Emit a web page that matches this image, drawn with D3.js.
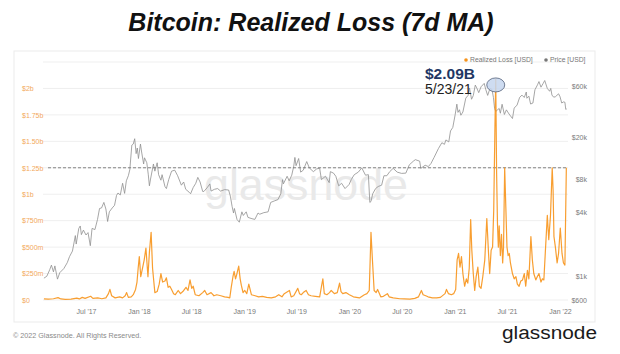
<!DOCTYPE html>
<html>
<head>
<meta charset="utf-8">
<script src="https://cdn.jsdelivr.net/npm/d3@7"></script>
<style>
  body { margin: 0; background: #fff; }
  svg text { font-family: "Liberation Sans", Arial, sans-serif; }
</style>
</head>
<body>
<svg id="chart" width="620" height="354"></svg>
<script>
// Realized loss, 7d MA, in $ billions
const lossData = [
  ["2017-02-05",0.01],["2017-02-20",0.008],["2017-03-10",0.012],["2017-03-26",0.022],["2017-04-05",0.01],
  ["2017-04-20",0.006],["2017-05-10",0.008],["2017-05-30",0.018],["2017-06-08",0.01],["2017-06-18",0.025],
  ["2017-06-28",0.015],["2017-07-17",0.035],["2017-07-25",0.015],["2017-08-11",0.02],["2017-08-25",0.012],
  ["2017-09-08",0.02],["2017-09-17",0.06],["2017-09-22",0.10],["2017-09-28",0.04],["2017-10-10",0.02],
  ["2017-10-26",0.03],["2017-11-05",0.02],["2017-11-14",0.04],["2017-11-19",0.07],["2017-11-25",0.025],
  ["2017-12-05",0.03],["2017-12-12",0.05],["2017-12-20",0.10],["2017-12-25",0.17],["2017-12-29",0.30],
  ["2018-01-02",0.41],["2018-01-07",0.22],["2018-01-13",0.30],["2018-01-19",0.38],["2018-01-25",0.49],
  ["2018-02-01",0.22],["2018-02-06",0.45],["2018-02-12",0.64],["2018-02-17",0.30],["2018-02-25",0.07],
  ["2018-03-05",0.08],["2018-03-12",0.15],["2018-03-18",0.25],["2018-03-24",0.17],["2018-04-01",0.18],
  ["2018-04-06",0.21],["2018-04-12",0.12],["2018-04-18",0.13],["2018-04-24",0.10],["2018-05-01",0.06],
  ["2018-05-07",0.05],["2018-05-17",0.09],["2018-05-25",0.06],["2018-06-02",0.08],["2018-06-13",0.12],
  ["2018-06-20",0.09],["2018-06-27",0.19],["2018-07-03",0.11],["2018-07-08",0.13],["2018-07-15",0.05],
  ["2018-07-28",0.04],["2018-08-10",0.07],["2018-08-17",0.09],["2018-08-25",0.05],["2018-09-08",0.07],
  ["2018-09-18",0.04],["2018-09-28",0.05],["2018-10-12",0.04],["2018-10-25",0.03],["2018-11-06",0.025],
  ["2018-11-12",0.02],["2018-11-17",0.12],["2018-11-23",0.22],["2018-11-27",0.27],["2018-12-02",0.20],
  ["2018-12-06",0.24],["2018-12-13",0.32],["2018-12-18",0.20],["2018-12-22",0.14],["2018-12-28",0.07],
  ["2019-01-03",0.09],["2019-01-10",0.06],["2019-01-17",0.15],["2019-01-26",0.05],["2019-02-08",0.04],
  ["2019-02-20",0.03],["2019-03-05",0.035],["2019-03-20",0.025],["2019-04-05",0.02],["2019-04-20",0.03],
  ["2019-05-01",0.05],["2019-05-12",0.03],["2019-05-20",0.06],["2019-06-07",0.09],["2019-06-13",0.03],
  ["2019-06-22",0.04],["2019-07-06",0.11],["2019-07-12",0.06],["2019-07-18",0.05],["2019-07-25",0.07],
  ["2019-08-04",0.09],["2019-08-12",0.05],["2019-08-21",0.04],["2019-09-05",0.035],["2019-09-20",0.03],
  ["2019-09-27",0.14],["2019-10-01",0.20],["2019-10-06",0.06],["2019-10-15",0.05],["2019-10-24",0.07],
  ["2019-10-30",0.09],["2019-11-10",0.06],["2019-11-20",0.07],["2019-11-28",0.16],["2019-12-03",0.08],
  ["2019-12-09",0.06],["2019-12-20",0.07],["2020-01-01",0.05],["2020-01-15",0.03],["2020-02-05",0.02],
  ["2020-02-22",0.05],["2020-03-02",0.06],["2020-03-10",0.09],["2020-03-14",0.45],["2020-03-16",0.64],
  ["2020-03-21",0.38],["2020-03-27",0.09],["2020-04-03",0.07],["2020-04-08",0.10],["2020-04-19",0.03],
  ["2020-04-28",0.035],["2020-05-12",0.06],["2020-05-18",0.03],["2020-06-01",0.02],["2020-06-24",0.012],
  ["2020-07-10",0.01],["2020-07-29",0.008],["2020-08-15",0.015],["2020-08-28",0.03],["2020-09-07",0.09],
  ["2020-09-13",0.05],["2020-09-22",0.04],["2020-09-30",0.03],["2020-10-15",0.02],["2020-10-30",0.02],
  ["2020-11-12",0.025],["2020-11-28",0.06],["2020-12-03",0.10],["2020-12-10",0.06],["2020-12-20",0.05],
  ["2020-12-28",0.06],["2021-01-04",0.10],["2021-01-09",0.38],["2021-01-14",0.44],["2021-01-19",0.31],
  ["2021-01-24",0.41],["2021-01-29",0.25],["2021-02-04",0.13],["2021-02-10",0.20],["2021-02-15",0.16],
  ["2021-02-20",0.30],["2021-02-25",0.76],["2021-03-01",0.47],["2021-03-06",0.25],["2021-03-11",0.09],
  ["2021-03-16",0.22],["2021-03-22",0.31],["2021-03-27",0.13],["2021-04-02",0.11],["2021-04-08",0.22],
  ["2021-04-15",0.38],["2021-04-22",0.77],["2021-04-28",0.44],["2021-05-02",0.25],["2021-05-07",0.47],
  ["2021-05-12",0.50],["2021-05-16",0.85],["2021-05-20",1.60],["2021-05-23",2.09],["2021-05-26",1.20],
  ["2021-05-29",0.72],["2021-06-01",0.50],["2021-06-04",0.70],["2021-06-08",0.42],["2021-06-12",0.62],
  ["2021-06-16",0.35],["2021-06-19",0.50],["2021-06-23",1.25],["2021-06-27",0.88],["2021-07-01",0.50],
  ["2021-07-05",0.42],["2021-07-09",0.44],["2021-07-13",0.35],["2021-07-20",0.25],["2021-07-26",0.20],
  ["2021-08-01",0.22],["2021-08-06",0.15],["2021-08-12",0.13],["2021-08-18",0.18],["2021-08-24",0.19],
  ["2021-08-30",0.25],["2021-09-04",0.13],["2021-09-10",0.28],["2021-09-15",0.20],["2021-09-22",0.60],
  ["2021-09-27",0.38],["2021-10-02",0.25],["2021-10-09",0.19],["2021-10-14",0.22],["2021-10-20",0.25],
  ["2021-10-27",0.17],["2021-11-01",0.20],["2021-11-06",0.19],["2021-11-12",0.50],["2021-11-18",0.80],
  ["2021-11-23",0.57],["2021-11-29",0.80],["2021-12-05",1.25],["2021-12-08",1.04],["2021-12-11",0.60],
  ["2021-12-16",0.50],["2021-12-22",0.35],["2021-12-27",0.44],["2022-01-02",0.68],["2022-01-08",0.44],
  ["2022-01-13",0.35],["2022-01-18",0.33],["2022-01-23",1.25]
];

// BTC price, USD
const priceData = [
  ["2017-02-05",960],["2017-02-15",1000],["2017-02-25",1150],["2017-03-03",1270],["2017-03-10",1100],
  ["2017-03-15",1250],["2017-03-24",940],["2017-04-01",1080],["2017-04-15",1180],["2017-04-27",1340],
  ["2017-05-05",1530],["2017-05-15",1720],["2017-05-25",2400],["2017-05-28",2000],["2017-06-06",2800],
  ["2017-06-11",2950],["2017-06-15",2450],["2017-06-22",2700],["2017-07-01",2430],["2017-07-08",2560],
  ["2017-07-16",1930],["2017-07-22",2800],["2017-08-01",2730],["2017-08-10",3400],["2017-08-17",4300],
  ["2017-08-24",4350],["2017-09-01",4900],["2017-09-08",4250],["2017-09-14",3250],["2017-09-20",4000],
  ["2017-09-30",4350],["2017-10-08",4600],["2017-10-15",5700],["2017-10-20",6000],["2017-10-28",5750],
  ["2017-11-05",7400],["2017-11-12",5950],["2017-11-18",7800],["2017-11-25",8700],["2017-11-30",9900],
  ["2017-12-07",16800],["2017-12-12",17200],["2017-12-17",19300],["2017-12-22",14000],["2017-12-26",15800],
  ["2017-12-30",12600],["2018-01-06",17200],["2018-01-10",14500],["2018-01-17",11200],["2018-01-20",12800],
  ["2018-01-28",11500],["2018-02-02",9000],["2018-02-06",7000],["2018-02-10",8100],["2018-02-20",11200],
  ["2018-02-25",9600],["2018-03-05",11500],["2018-03-10",8900],["2018-03-18",7900],["2018-03-22",8900],
  ["2018-04-01",6900],["2018-04-06",6600],["2018-04-14",8000],["2018-04-24",9600],["2018-05-05",9800],
  ["2018-05-15",8700],["2018-05-28",7100],["2018-06-05",7600],["2018-06-12",6500],["2018-06-24",6100],
  ["2018-06-29",5900],["2018-07-08",6750],["2018-07-17",7400],["2018-07-24",8400],["2018-08-01",7600],
  ["2018-08-10",6200],["2018-08-14",6200],["2018-08-25",6700],["2018-09-04",7300],["2018-09-08",6250],
  ["2018-09-20",6500],["2018-10-01",6600],["2018-10-11",6250],["2018-10-25",6450],["2018-11-08",6400],
  ["2018-11-14",5600],["2018-11-20",4500],["2018-11-25",3900],["2018-11-28",4300],["2018-12-07",3400],
  ["2018-12-15",3200],["2018-12-24",4000],["2018-12-29",3700],["2019-01-08",4000],["2019-01-14",3550],
  ["2019-01-28",3450],["2019-02-07",3400],["2019-02-18",3900],["2019-02-24",3800],["2019-03-10",3930],
  ["2019-03-25",4000],["2019-04-03",4900],["2019-04-15",5050],["2019-04-28",5200],["2019-05-08",5900],
  ["2019-05-14",8000],["2019-05-17",7300],["2019-05-30",8600],["2019-06-06",7800],["2019-06-15",8800],
  ["2019-06-22",10700],["2019-06-26",12900],["2019-06-30",10800],["2019-07-09",12600],["2019-07-16",9400],
  ["2019-07-25",9800],["2019-08-06",11800],["2019-08-15",10300],["2019-08-29",9500],["2019-09-10",10100],
  ["2019-09-20",10200],["2019-09-26",8000],["2019-10-10",8600],["2019-10-23",7500],["2019-10-27",9500],
  ["2019-11-07",9200],["2019-11-15",8600],["2019-11-25",7000],["2019-12-05",7400],["2019-12-17",6600],
  ["2019-12-31",7200],["2020-01-08",8050],["2020-01-18",8900],["2020-02-01",9400],["2020-02-13",10300],
  ["2020-02-26",8800],["2020-03-07",8900],["2020-03-12",4900],["2020-03-16",5000],["2020-03-22",5900],
  ["2020-04-01",6600],["2020-04-10",6900],["2020-04-22",7100],["2020-04-30",8700],["2020-05-10",8700],
  ["2020-05-20",9500],["2020-06-01",10200],["2020-06-15",9400],["2020-06-30",9150],["2020-07-15",9200],
  ["2020-07-27",11000],["2020-08-10",11900],["2020-08-17",12300],["2020-09-01",11900],["2020-09-05",10200],
  ["2020-09-20",10900],["2020-10-01",10600],["2020-10-10",11300],["2020-10-21",12900],["2020-11-05",15600],
  ["2020-11-17",17700],["2020-11-26",17100],["2020-12-01",18800],["2020-12-11",18000],["2020-12-17",22800],
  ["2020-12-25",24600],["2021-01-02",32200],["2021-01-08",40600],["2021-01-12",34000],["2021-01-17",36000],
  ["2021-01-22",32000],["2021-01-29",34300],["2021-02-08",46200],["2021-02-16",49000],["2021-02-21",57500],
  ["2021-02-28",45100],["2021-03-06",48800],["2021-03-13",61200],["2021-03-18",57600],["2021-03-25",52000],
  ["2021-04-02",59000],["2021-04-13",63500],["2021-04-18",56000],["2021-04-25",49000],["2021-05-03",57000],
  ["2021-05-10",55800],["2021-05-15",46800],["2021-05-19",37000],["2021-05-23",34700],["2021-05-28",35700],
  ["2021-06-04",37000],["2021-06-08",33400],["2021-06-14",40500],["2021-06-22",32500],["2021-06-29",35900],
  ["2021-07-08",32900],["2021-07-20",29800],["2021-07-26",37300],["2021-08-05",39800],["2021-08-14",47000],
  ["2021-08-22",49300],["2021-08-30",46900],["2021-09-06",52700],["2021-09-08",46100],["2021-09-15",48200],
  ["2021-09-21",40700],["2021-09-29",41600],["2021-10-06",55300],["2021-10-15",61600],["2021-10-20",66000],
  ["2021-10-27",58500],["2021-11-03",63000],["2021-11-09",67500],["2021-11-18",56900],["2021-11-26",53600],
  ["2021-11-30",57000],["2021-12-04",49400],["2021-12-10",47200],["2021-12-16",47600],["2021-12-27",50700],
  ["2022-01-01",47700],["2022-01-07",41600],["2022-01-13",42600],["2022-01-18",42300],["2022-01-21",36300],
  ["2022-01-24",36600]
];

const lossTicks = [0, 0.25, 0.5, 0.75, 1, 1.25, 1.5, 1.75, 2];
const lossTickLabels = ["$0", "$250m", "$500m", "$750m", "$1b", "$1.25b", "$1.50b", "$1.75b", "$2b"];
const gridTicks = [0, 0.25, 0.5, 0.75, 1, 1.25, 1.5, 1.75, 2, 2.25];
const priceTicks = [600, 1000, 4000, 8000, 20000, 60000];
const priceTickLabels = ["$600", "$1k", "$4k", "$8k", "$20k", "$60k"];
const xTicks = ["2017-07-01", "2018-01-01", "2018-07-01", "2019-01-01", "2019-07-01",
                "2020-01-01", "2020-07-01", "2021-01-01", "2021-07-01", "2022-01-01"];
const xTickLabels = ["Jul '17", "Jan '18", "Jul '18", "Jan '19", "Jul '19",
                     "Jan '20", "Jul '20", "Jan '21", "Jul '21", "Jan '22"];
const threshold = 1.25;
const peak = {date: "2021-05-23", value: 2.09, label: "$2.09B", dateLabel: "5/23/21"};

const parse = d3.timeParse("%Y-%m-%d");
const svg = d3.select("#chart");

// title
svg.append("text")
    .attr("x", 311).attr("y", 31)
    .attr("text-anchor", "middle")
    .attr("font-size", 25).attr("font-weight", "bold").attr("font-style", "italic")
    .attr("fill", "#111")
    .text("Bitcoin: Realized Loss (7d MA)");

// panel
svg.append("rect")
    .attr("x", 14).attr("y", 51).attr("width", 581).attr("height", 271)
    .attr("fill", "#fff").attr("stroke", "#ebebeb");

const gridLeft = 43, gridRight = 568;

// Scales
const x = d3.scaleTime().domain([parse(xTicks[0]), parse(xTicks[xTicks.length - 1])]).range([86, 560]);
const yLoss = d3.scaleLinear().domain([0, 2.25]).range([300, 62]);
const yPrice = d3.scaleLog().domain([600, 60000]).range([300, 86]);

// grid
svg.append("g").selectAll("line")
    .data(gridTicks)
    .enter().append("line")
    .attr("x1", gridLeft).attr("x2", gridRight)
    .attr("y1", d => yLoss(d)).attr("y2", d => yLoss(d))
    .attr("stroke", "#efefef");

// watermark
svg.append("text")
    .attr("x", 306).attr("y", 200)
    .attr("text-anchor", "middle")
    .attr("font-family", "'Open Sans', sans-serif")
    .attr("font-size", 44)
    .attr("textLength", 204).attr("lengthAdjust", "spacingAndGlyphs")
    .attr("fill", "#e9e9e9")
    .text("glassnode");

// Axes
const axisLoss = svg.append("g")
    .attr("transform", "translate(22,0)")
    .call(d3.axisRight(yLoss).tickValues(lossTicks).tickFormat((d, i) => lossTickLabels[i]).tickSize(0).tickPadding(0));
const axisPrice = svg.append("g")
    .attr("transform", "translate(587,0)")
    .call(d3.axisLeft(yPrice).tickValues(priceTicks).tickFormat((d, i) => priceTickLabels[i]).tickSize(0).tickPadding(0));
const axisX = svg.append("g")
    .attr("transform", "translate(0,306)")
    .call(d3.axisBottom(x).tickValues(xTicks.map(parse)).tickFormat((d, i) => xTickLabels[i]).tickSize(0).tickPadding(3));

[axisLoss, axisPrice, axisX].forEach(g => {
    g.select(".domain").remove();
    g.selectAll("text").attr("font-family", "Roboto, 'Liberation Sans', sans-serif").attr("font-size", 7);
});
axisLoss.selectAll("text").attr("fill", "#f2a85c");
axisPrice.selectAll("text").attr("fill", "#7a7a7a");
axisX.selectAll("text").attr("fill", "#7a7a7a");

// price line
svg.append("path")
    .datum(priceData)
    .attr("fill", "none")
    .attr("stroke", "#8f8f8f")
    .attr("stroke-width", 0.8)
    .attr("d", d3.line().x(d => x(parse(d[0]))).y(d => yPrice(d[1])));

// threshold line
svg.append("line")
    .attr("x1", 48).attr("x2", gridRight)
    .attr("y1", yLoss(threshold)).attr("y2", yLoss(threshold))
    .attr("stroke", "#777").attr("stroke-width", 0.9)
    .attr("stroke-dasharray", "3,2");

// realized loss line
svg.append("path")
    .datum(lossData)
    .attr("fill", "none")
    .attr("stroke", "#f7931a")
    .attr("stroke-width", 1.2)
    .attr("stroke-opacity", 0.9)
    .attr("stroke-linejoin", "round")
    .attr("d", d3.line().x(d => x(parse(d[0]))).y(d => yLoss(d[1])));

// peak annotation
const px = x(parse(peak.date)), py = yLoss(peak.value);
svg.append("ellipse")
    .attr("cx", px).attr("cy", py + 6).attr("rx", 9).attr("ry", 7)
    .attr("fill", "#c6d6ef").attr("fill-opacity", 0.85)
    .attr("stroke", "#52607a").attr("stroke-width", 0.8);
svg.append("text")
    .attr("x", 425).attr("y", 78.5)
    .attr("font-size", 15.5).attr("font-weight", "bold")
    .attr("fill", "#1f3864")
    .text(peak.label);
svg.append("text")
    .attr("x", 425).attr("y", 93.5)
    .attr("font-size", 14)
    .attr("fill", "#222")
    .text(peak.dateLabel);

// legend
const legend = [
    {label: "Realized Loss [USD]", color: "#f7931a", x: 466},
    {label: "Price [USD]", color: "#777", x: 546}
];
const lg = svg.append("g").selectAll("g").data(legend).enter().append("g")
    .attr("transform", d => `translate(${d.x},60)`);
lg.append("circle").attr("r", 1.8).attr("fill", d => d.color);
lg.append("text")
    .attr("x", 4).attr("dy", "0.35em")
    .attr("font-family", "Roboto, 'Liberation Sans', sans-serif")
    .attr("font-size", 6.8).attr("fill", "#777")
    .text(d => d.label);

// footer
svg.append("text")
    .attr("x", 13).attr("y", 338)
    .attr("font-family", "Roboto, 'Liberation Sans', sans-serif")
    .attr("font-size", 7.2).attr("fill", "#8a8a8a")
    .text("© 2022 Glassnode. All Rights Reserved.");
svg.append("text")
    .attr("x", 597).attr("y", 339)
    .attr("text-anchor", "end")
    .attr("font-family", "'Open Sans', sans-serif")
    .attr("font-size", 18)
    .attr("textLength", 95).attr("lengthAdjust", "spacingAndGlyphs")
    .attr("fill", "#1a1a1a")
    .text("glassnode");
</script>
</body>
</html>
